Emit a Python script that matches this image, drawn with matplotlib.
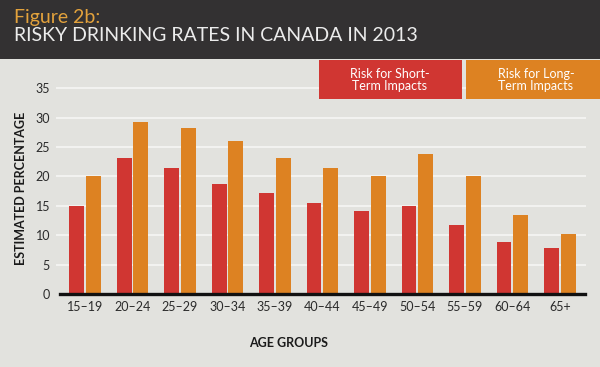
import numpy as np
import matplotlib
matplotlib.use('Agg')
import matplotlib.pyplot as plt
from matplotlib.patches import Rectangle

# data
age_groups = ['15–19', '20–24', '25–29', '30–34', '35–39', '40–44',
              '45–49', '50–54', '55–59', '60–64', '65+']
short_term = [15.0, 23.2, 21.5, 18.8, 17.2, 15.4, 14.2, 15.0, 11.7, 8.8, 7.9]
long_term = [20.0, 29.2, 28.2, 26.0, 23.2, 21.4, 20.0, 23.8, 20.1, 13.4, 10.2]
y_ticks = [0, 5, 10, 15, 20, 25, 30, 35]

BG = '#e2e2de'
HEADER = '#333132'
RED = '#d03632'
ORANGE = '#dd8222'
TEXT = '#2b2b2b'

plt.rcParams['font.family'] = ['Lato', 'DejaVu Sans']

W, H = 600, 367
fig = plt.figure(figsize=(W / 100, H / 100), dpi=100, facecolor=BG)


def fx(px):
    return px / W


def fy(py):
    return 1 - py / H


# dark header band
fig.patches.append(Rectangle((0, fy(59)), 1, 59 / H, transform=fig.transFigure,
                             facecolor=HEADER, edgecolor='none', zorder=0))
fig.text(fx(14), fy(23), 'Figure 2b:', color='#e3a23c', fontsize=14,
         fontweight='normal', ha='left', va='baseline')
fig.text(fx(14), fy(41), 'RISKY DRINKING RATES IN CANADA IN 2013', color='#ececec',
         fontsize=14, fontweight='normal', ha='left', va='baseline')

# plot area
left, right, top, bottom = 57, 585, 88.3, 294
ax = fig.add_axes([fx(left), fy(bottom), (right - left) / W, (bottom - top) / H])
ax.set_facecolor(BG)

x = np.arange(len(age_groups))
bw = 0.31
off = 0.175
ax.bar(x - off, short_term, width=bw, color=RED, zorder=3)
ax.bar(x + off, long_term, width=bw, color=ORANGE, zorder=3)

ax.set_xlim(-0.59, 10.53)
ax.set_ylim(0, 35)
ax.set_yticks(y_ticks)
ax.set_xticks(x)
ax.set_xticklabels(age_groups)
for yv in y_ticks[1:]:
    ax.axhline(yv, color='#f3f3f1', lw=1.4, zorder=1, clip_on=False)
ax.axhline(0, xmin=3 / (right - left), xmax=1, color='#111111', lw=2.4, zorder=4,
           clip_on=False)

for s in ax.spines.values():
    s.set_visible(False)
ax.tick_params(axis='both', length=0, labelsize=9, labelcolor=TEXT)
ax.tick_params(axis='y', pad=5)
ax.tick_params(axis='x', pad=5)

fig.text(fx(21), fy(188), 'ESTIMATED PERCENTAGE', rotation=90, fontsize=9,
         fontweight='bold', color='#1a1a1a', ha='center', va='center')
fig.text(fx(289), fy(343), 'AGE GROUPS', fontsize=9, fontweight='bold',
         color='#1a1a1a', ha='center', va='center')

# legend boxes
fig.patches.append(Rectangle((fx(319), fy(99)), (462 - 319) / W, 39 / H,
                             transform=fig.transFigure, facecolor=RED,
                             edgecolor='none', zorder=5))
fig.patches.append(Rectangle((fx(466), fy(99)), (600 - 466) / W, 39 / H,
                             transform=fig.transFigure, facecolor=ORANGE,
                             edgecolor='none', zorder=5))
fig.text(fx(390), fy(80), 'Risk for Short-\nTerm Impacts', color='white',
         fontsize=9, ha='center', va='center', linespacing=0.95, zorder=6)
fig.text(fx(536), fy(80), 'Risk for Long-\nTerm Impacts', color='white',
         fontsize=9, ha='center', va='center', linespacing=0.95, zorder=6)

fig.savefig('out.png', dpi=100, facecolor=BG)
